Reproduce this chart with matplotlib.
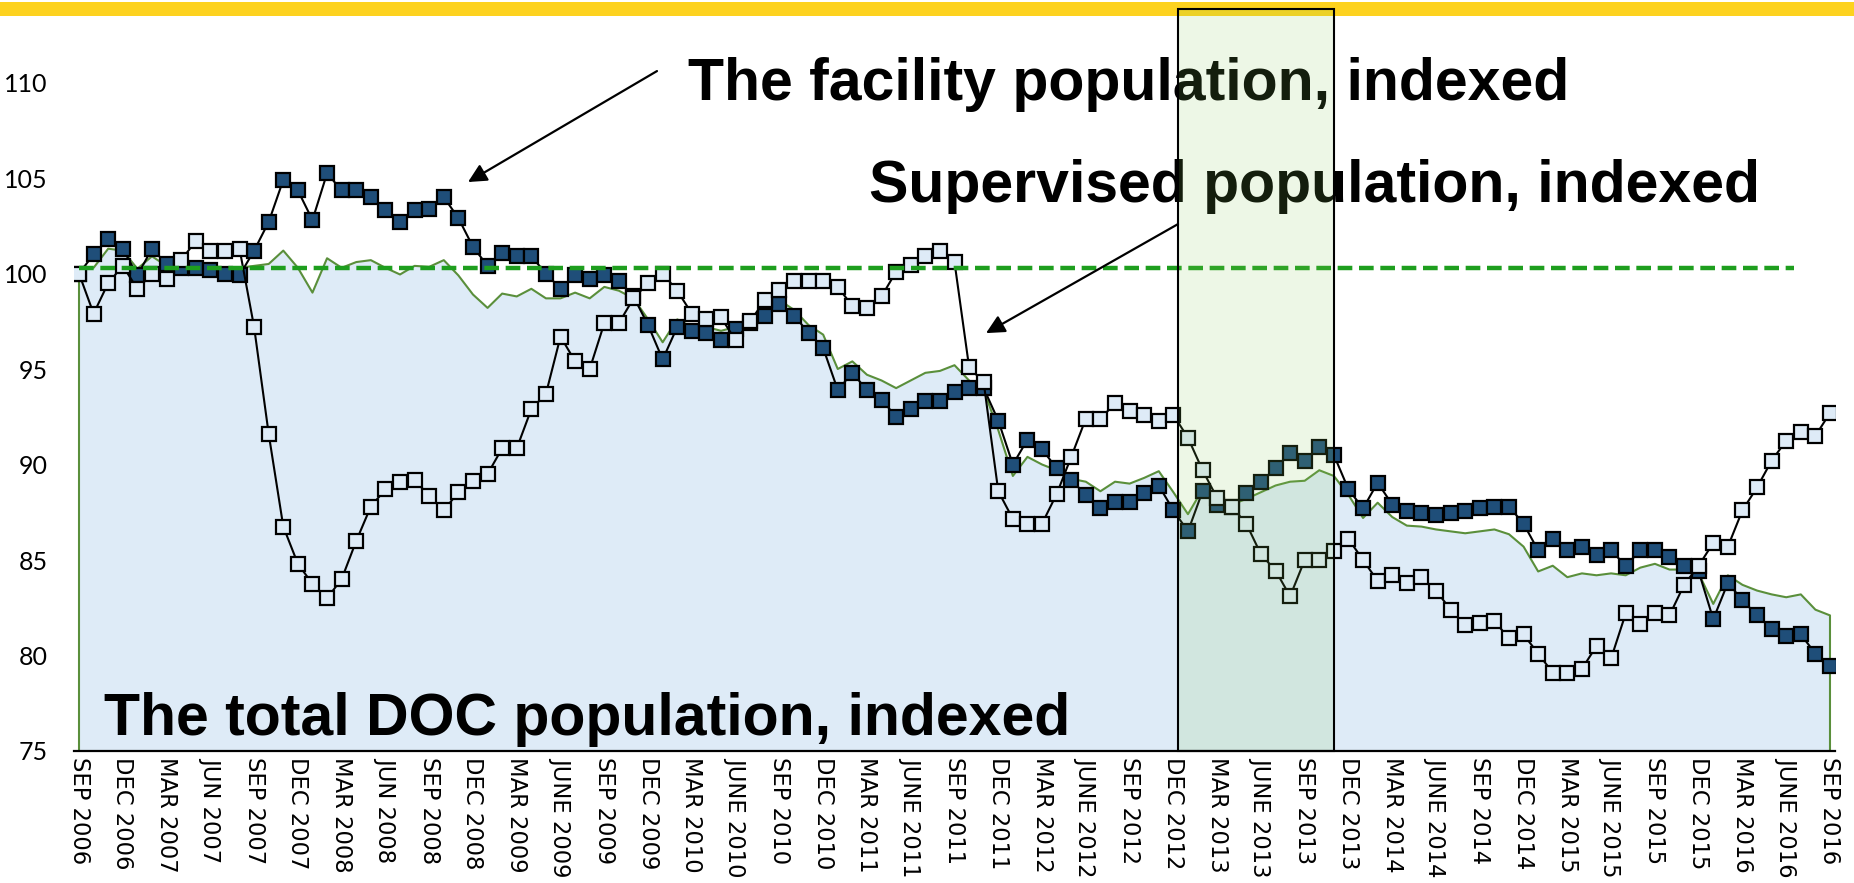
#!/usr/bin/env python3

import matplotlib.pyplot as plt
from matplotlib.patches import Rectangle

# monthly index values, SEP 2006 .. SEP 2016 (121 months)
facility = [
    100.0, 101.0, 101.8, 101.3, 99.9, 101.3, 100.5, 100.3, 100.3, 100.2,
    100.0, 99.9, 101.2, 102.7, 104.9, 104.35, 102.8, 105.25, 104.35, 104.35,
    104.0, 103.3, 102.7, 103.3, 103.4, 104.0, 102.9, 101.4, 100.4, 101.1,
    100.9, 100.9, 100.0, 99.2, 99.9, 99.7, 99.9, 99.6, 98.8, 97.3,
    95.5, 97.2, 97.0, 96.9, 96.5, 97.1, 97.4, 97.8, 98.4, 97.8,
    96.9, 96.1, 93.9, 94.8, 93.9, 93.4, 92.5, 92.9, 93.3, 93.3,
    93.8, 94.0, 94.0, 92.3, 90.0, 91.3, 90.8, 89.8, 89.2, 88.4,
    87.7, 88.05, 88.05, 88.5, 88.9, 87.6, 86.5, 88.6, 87.9, 87.8,
    88.5, 89.1, 89.8, 90.6, 90.2, 90.9, 90.5, 88.7, 87.7, 89.05,
    87.9, 87.55, 87.45, 87.35, 87.45, 87.55, 87.7, 87.8, 87.8, 86.9,
    85.5, 86.1, 85.5, 85.7, 85.25, 85.5, 84.7, 85.5, 85.5, 85.15,
    84.7, 84.4, 81.9, 83.8, 82.9, 82.1, 81.4, 81.0, 81.1, 80.1,
    79.45]

supervised = [
    100.0, 97.9, 99.5, 100.4, 99.2, 100.0, 99.7, 100.7, 101.7, 101.2,
    101.2, 101.3, 97.2, 91.6, 86.75, 84.8, 83.75, 83.0, 84.0, 86.0,
    87.8, 88.7, 89.1, 89.2, 88.35, 87.6, 88.55, 89.15, 89.5, 90.85,
    90.85, 92.9, 93.7, 96.7, 95.4, 95.0, 97.4, 97.4, 98.7, 99.5,
    100.0, 99.1, 97.9, 97.6, 97.7, 96.5, 97.5, 98.6, 99.15, 99.6,
    99.6, 99.6, 99.3, 98.3, 98.2, 98.8, 100.1, 100.45, 100.9, 101.2,
    100.6, 95.1, 94.3, 88.6, 87.15, 86.9, 86.9, 88.45, 90.4, 92.4,
    92.4, 93.2, 92.8, 92.6, 92.3, 92.6, 91.4, 89.7, 88.25, 87.8,
    86.9, 85.3, 84.45, 83.1, 85.0, 85.0, 85.45, 86.1, 85.0, 83.9,
    84.2, 83.8, 84.1, 83.4, 82.4, 81.6, 81.7, 81.8, 80.9, 81.1,
    80.1, 79.1, 79.1, 79.3, 80.5, 79.85, 82.2, 81.65, 82.2, 82.1,
    83.7, 84.7, 85.9, 85.7, 87.6, 88.8, 90.2, 91.25, 91.7, 91.5,
    92.7]

total = [
    100.3, 100.3, 101.3, 101.2, 100.25, 100.9, 100.4, 100.6, 100.35, 100.3,
    100.3, 100.3, 100.4, 100.5, 101.2, 100.3, 99.0, 100.8, 100.3, 100.6,
    100.7, 100.3, 99.95, 100.4, 100.35, 100.7, 99.9, 98.9, 98.2, 98.95,
    98.8, 99.2, 98.7, 98.7, 99.0, 98.7, 99.3, 99.1, 98.7, 97.6,
    96.4, 97.6, 97.2, 97.2, 97.0, 97.2, 97.5, 98.1, 98.6, 98.1,
    97.3, 96.8, 95.0, 95.4, 94.7, 94.4, 94.0, 94.4, 94.8, 94.9,
    95.2, 94.4, 93.9, 91.8, 89.4, 90.4, 90.0, 89.7, 89.25, 89.1,
    88.6, 89.1, 89.0, 89.3, 89.65, 88.55, 87.4, 88.7, 88.3, 87.9,
    88.2, 88.55, 88.9, 89.1, 89.15, 89.7, 89.4, 88.4, 87.2, 88.0,
    87.25, 86.8, 86.75, 86.6, 86.5, 86.4, 86.5, 86.6, 86.35, 85.7,
    84.4, 84.7, 84.1, 84.3, 84.2, 84.3, 84.2, 84.6, 84.8, 84.5,
    84.5, 84.3, 82.7, 84.2, 83.7, 83.4, 83.2, 83.05, 83.2, 82.4,
    82.1]

tick_labels = [
    'SEP 2006', 'DEC 2006', 'MAR 2007', 'JUN 2007', 'SEP 2007', 'DEC 2007',
    'MAR 2008', 'JUN 2008', 'SEP 2008', 'DEC 2008', 'MAR 2009', 'JUNE 2009',
    'SEP 2009', 'DEC 2009', 'MAR 2010', 'JUNE 2010', 'SEP 2010', 'DEC 2010',
    'MAR 2011', 'JUNE 2011', 'SEP 2011', 'DEC 2011', 'MAR 2012', 'JUNE 2012',
    'SEP 2012', 'DEC 2012', 'MAR 2013', 'JUNE 2013', 'SEP 2013', 'DEC 2013',
    'MAR 2014', 'JUNE 2014', 'SEP 2014', 'DEC 2014', 'MAR 2015', 'JUNE 2015',
    'SEP 2015', 'DEC 2015', 'MAR 2016', 'JUNE 2016', 'SEP 2016']

y_ticks = [75, 80, 85, 90, 95, 100, 105, 110]

baseline = 100.3          # dashed reference level
baseline_end = 117.5      # month where the dashed line stops
highlight = (75.33, 86.0) # highlighted period, in months

Y_MIN, Y_MAX = 75, 113.85


def main():

    months = list(range(len(total)))

    fig = plt.figure(figsize=(18.54, 8.83), dpi=100)
    ax = fig.add_axes([73.9 / 1854, 132 / 883, 1761.2 / 1854, 742 / 883])
    ax.set_facecolor('none')

    # yellow band on top of the slide
    fig.add_artist(Rectangle((0, 1 - 16 / 883), 1, 14 / 883,
                             transform=fig.transFigure,
                             facecolor='#FDD21F', edgecolor='none',
                             zorder=-1))

    # total population as filled area with green outline
    ax.fill_between(months, total, Y_MIN, color='#DEEBF7', lw=0, zorder=1)
    ax.plot([0] + months + [months[-1]], [Y_MIN] + total + [Y_MIN],
            color='#5A8F3B', lw=1.5, zorder=2)

    ax.plot(months, facility, color='black', lw=1.5, marker='s', ms=10,
            mfc='#1F4E79', mec='black', mew=1.6, zorder=3)
    ax.plot(months, supervised, color='black', lw=1.5, marker='s', ms=10,
            mfc='#DEEBF7', mec='black', mew=1.6, zorder=4)

    ax.plot([0, baseline_end], [baseline, baseline], color='#1E9E1E',
            lw=3.2, ls=(0, (3.3, 1.5)), zorder=5)

    # labels and arrows
    big = dict(family='Liberation Sans', fontsize=42.5, fontweight='bold',
               ha='left', va='baseline', zorder=6)
    ax.text(41.74, 109.1, 'The facility population, indexed', **big)
    ax.text(54.14, 103.74, 'Supervised population, indexed', **big)
    ax.text(1.71, 75.84, 'The total DOC population, indexed', **big)

    arrow = dict(arrowstyle='-|>', color='black', lw=1.6,
                 mutation_scale=28, shrinkA=0, shrinkB=0)
    ax.annotate('', xy=(26.66, 104.79), xytext=(39.61, 110.6),
                arrowprops=arrow, zorder=6)
    ax.annotate('', xy=(62.16, 96.88), xytext=(75.32, 102.59),
                arrowprops=arrow, zorder=6)

    # highlighted period
    ax.add_patch(Rectangle((highlight[0], Y_MIN),
                           highlight[1] - highlight[0], Y_MAX - Y_MIN,
                           facecolor=(140 / 255, 204 / 255, 89 / 255, 0.15),
                           edgecolor='black', lw=1.5, zorder=10,
                           clip_on=False))

    ax.set_xlim(-0.35, 120.35)
    ax.set_ylim(Y_MIN, Y_MAX)

    ax.set_xticks(months[::3])
    ax.set_xticklabels(tick_labels, rotation=270, family='DejaVu Sans',
                       fontsize=16.3, ha='center', va='top')
    ax.set_yticks(y_ticks)
    ax.set_yticklabels([str(v) for v in y_ticks], family='Lato',
                       fontsize=18)
    ax.tick_params(axis='x', length=0, pad=4.5)
    ax.tick_params(axis='y', length=0, pad=19)

    for side in ['top', 'right', 'left']:
        ax.spines[side].set_visible(False)
    ax.spines['bottom'].set_linewidth(1.6)
    ax.spines['bottom'].set_color('black')
    ax.spines['bottom'].set_zorder(11)

    fig.savefig('out.png', dpi=100)


if __name__ == '__main__':
    main()
